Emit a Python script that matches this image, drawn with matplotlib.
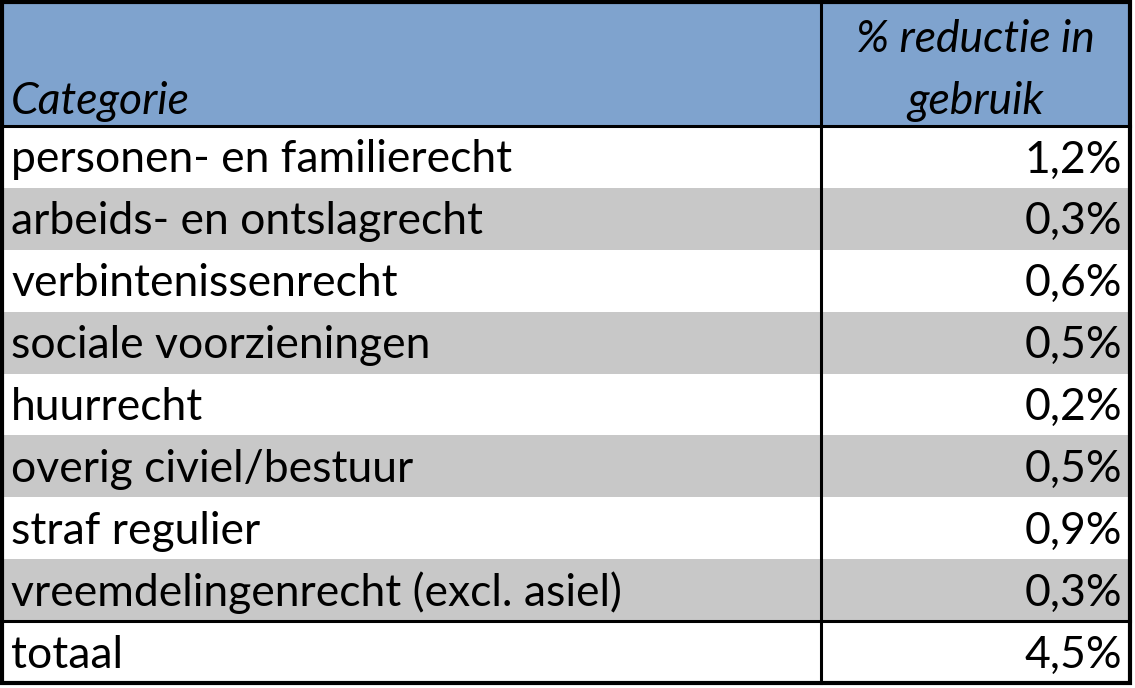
import matplotlib
matplotlib.use("Agg")
import matplotlib.pyplot as plt
from matplotlib.patches import Rectangle

header_cat = "Categorie"
header_val = ["% reductie in", "gebruik"]
categories = ["personen- en familierecht", "arbeids- en ontslagrecht", "verbintenissenrecht",
              "sociale voorzieningen", "huurrecht", "overig civiel/bestuur", "straf regulier",
              "vreemdelingenrecht (excl. asiel)", "totaal"]
values = ["1,2%", "0,3%", "0,6%", "0,5%", "0,2%", "0,5%", "0,9%", "0,3%", "4,5%"]

W, H = 1135, 688
fig = plt.figure(figsize=(W / 100, H / 100), dpi=100)
ax = fig.add_axes([0, 0, 1, 1])
ax.set_xlim(0, W)
ax.set_ylim(H, 0)
ax.axis("off")

FONT = "Lato"
FS = 32
left, right, top, bottom = 2, 1130, 2, 683
colx = 821
head_bot = 126
row_h = (bottom - head_bot) / len(categories)

ax.add_patch(Rectangle((left, top), right - left, head_bot - top, facecolor="#7FA3CE", edgecolor="none"))
for i, (c, v) in enumerate(zip(categories, values)):
    y0 = head_bot + i * row_h
    fc = "#C8C8C8" if i % 2 == 1 and i < 8 else "white"
    ax.add_patch(Rectangle((left, y0), right - left, row_h, facecolor=fc, edgecolor="none"))
    yc = y0 + row_h / 2 + 3
    ax.text(11, yc, c, fontsize=FS, family=FONT, va="center", ha="left", color="black")
    ax.text(1122, yc, v, fontsize=FS, family=FONT, va="center", ha="right", color="black")

ax.text(11, 101, header_cat, fontsize=FS, family=FONT, style="italic", va="center", ha="left")
ax.text(975, 39, header_val[0], fontsize=FS, family=FONT, style="italic", va="center", ha="center")
ax.text(975, 101, header_val[1], fontsize=FS, family=FONT, style="italic", va="center", ha="center")

lw = 2.2
ax.plot([left, right], [head_bot, head_bot], color="black", lw=lw)
y_tot = head_bot + 8 * row_h
ax.plot([left, right], [y_tot, y_tot], color="black", lw=lw)
ax.plot([colx, colx], [top, bottom], color="black", lw=lw)
ax.plot([left, right, right, left, left], [top, top, bottom, bottom, top], color="black", lw=3,
        solid_joinstyle="miter")

fig.savefig("out.png", dpi=100)
